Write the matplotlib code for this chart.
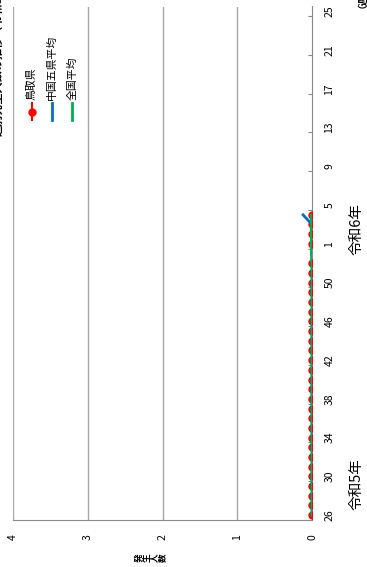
import numpy as np
import matplotlib
matplotlib.use("Agg")
import matplotlib.pyplot as plt
from matplotlib.lines import Line2D

plt.rcParams['font.family'] = ['Noto Sans CJK JP', 'DejaVu Sans']

# ================= DATA =================
week_labels = ["26", "27", "28", "29", "30", "31", "32", "33", "34", "35",
               "36", "37", "38", "39", "40", "41", "42", "43", "44", "45",
               "46", "47", "48", "49", "50", "51", "52", "53",
               "1", "2", "3", "4", "5", "6", "7", "8", "9", "10",
               "11", "12", "13", "14", "15", "16", "17", "18", "19", "20",
               "21", "22", "23", "24", "25"]
nan = np.nan
tottori = [0, 0, 0, 0, 0, 0, 0, 0, 0, 0,
           0, 0, 0, 0, 0, 0, 0, 0, 0, 0,
           0, 0, 0, 0, 0, 0, 0, nan,
           0, 0, 0, 0, nan, nan, nan, nan, nan, nan,
           nan, nan, nan, nan, nan, nan, nan, nan, nan, nan,
           nan, nan, nan, nan, nan]
chugoku = [0, 0, 0, 0, 0, 0, 0, 0, 0, 0,
           0, 0, 0, 0, 0, 0, 0, 0, 0, 0,
           0, 0, 0, 0, 0, 0, 0, 0,
           0, 0, 0, 0.12, nan, nan, nan, nan, nan, nan,
           nan, nan, nan, nan, nan, nan, nan, nan, nan, nan,
           nan, nan, nan, nan, nan]
national = [0, 0, 0, 0, 0, 0, 0, 0, 0, 0,
            0, 0, 0, 0, 0, 0, 0, 0, 0, 0,
            0, 0, 0, 0, 0, 0, 0, 0.01,
            0.01, 0.01, 0.01, 0.01, nan, nan, nan, nan, nan, nan,
            nan, nan, nan, nan, nan, nan, nan, nan, nan, nan,
            nan, nan, nan, nan, nan]
value_ticks = [0, 1, 2, 3, 4]
series_names = ["鳥取県", "中国五県平均", "全国平均"]

RED, BLUE, GREEN = "#ff0000", "#0070c0", "#00b050"
GRID = "#a6a6a6"

W, H = 367, 567
fig = plt.figure(figsize=(W / 100, H / 100), dpi=100)


def fx(px):
    return px / W


def fy(py):
    return 1 - py / H


# chart is drawn rotated: values run right-to-left, weeks bottom-to-top
ax = fig.add_axes([fx(13), fy(520), fx(312) - fx(13), fy(6.5) - fy(520)])
pos = np.arange(len(week_labels))

ax.plot(tottori, pos, color=RED, lw=1.5, marker='o', ms=5, mec=RED, mfc=RED, zorder=3)
ax.plot(chugoku, pos, color=BLUE, lw=2, zorder=4)
ax.plot(national, pos, color=GREEN, lw=1.8, zorder=5)

ax.set_xlim(4, 0)
ax.set_ylim(-0.5, len(week_labels) - 0.5)

for v in value_ticks[1:]:
    ax.axvline(v, color=GRID, lw=1, zorder=1)

for s in ['top', 'left']:
    ax.spines[s].set_visible(False)
ax.spines['bottom'].set_color("#898989")
ax.spines['right'].set_color("#898989")

# value axis (original y axis)
ax.set_xticks(value_ticks)
ax.set_xticklabels([str(v) for v in value_ticks], rotation=90, fontsize=7.5)
ax.tick_params(axis='x', length=0, pad=10)

# category axis (original x axis)
ax.yaxis.tick_right()
bounds = np.arange(-0.5, len(week_labels), 4)
ax.set_yticks(bounds)
ax.set_yticklabels([])
ax.tick_params(axis='y', which='major', direction='in', length=3, color="#898989")
lab_pos = pos[::4]
ax.set_yticks(lab_pos, minor=True)
ax.set_yticklabels([week_labels[i] for i in lab_pos], minor=True, rotation=90,
                   fontsize=7.5, va='center')
ax.tick_params(axis='y', which='minor', length=0, pad=9)

# era labels
ax.text(1.15, 3.2, "令和5年", transform=ax.get_yaxis_transform(), rotation=90,
        fontsize=10.5, ha='center', va='center')
ax.text(1.15, 29.5, "令和6年", transform=ax.get_yaxis_transform(), rotation=90,
        fontsize=10.5, ha='center', va='center')

# legend (drawn by hand because of the rotation)
leg_x = [32, 52, 72]
leg_col = [RED, BLUE, GREEN]
for i, name in enumerate(series_names):
    fig.add_artist(Line2D([fx(leg_x[i]), fx(leg_x[i])], [fy(120), fy(103)],
                          color=leg_col[i], lw=2 if i else 1.5))
    if i == 0:
        fig.add_artist(Line2D([fx(leg_x[i])], [fy(112)], color=RED, marker='o',
                              ms=5, lw=0))
    fig.text(fx(leg_x[i]), fy(100), name, rotation=90, rotation_mode='anchor',
             ha='left', va='center', fontsize=7.8)

# axis label, stacked characters
for i, ch in enumerate("発生人数"):
    fig.text(fx(139 + i * 8), fy(558), ch, rotation=90, ha='center', va='center',
             fontsize=6.2, fontweight='bold')

# title and x label, cut by the image edges
fig.text(fx(-1), fy(136), "週別発生人数の推移（令和5年第26週～）", rotation=90,
         rotation_mode='anchor', ha='left', va='center', fontsize=8, fontweight='bold')
fig.text(fx(357), fy(8), "（週）", rotation=90, rotation_mode='anchor',
         ha='left', va='center', fontsize=7, fontweight='bold')

fig.savefig("out.png", dpi=100)
